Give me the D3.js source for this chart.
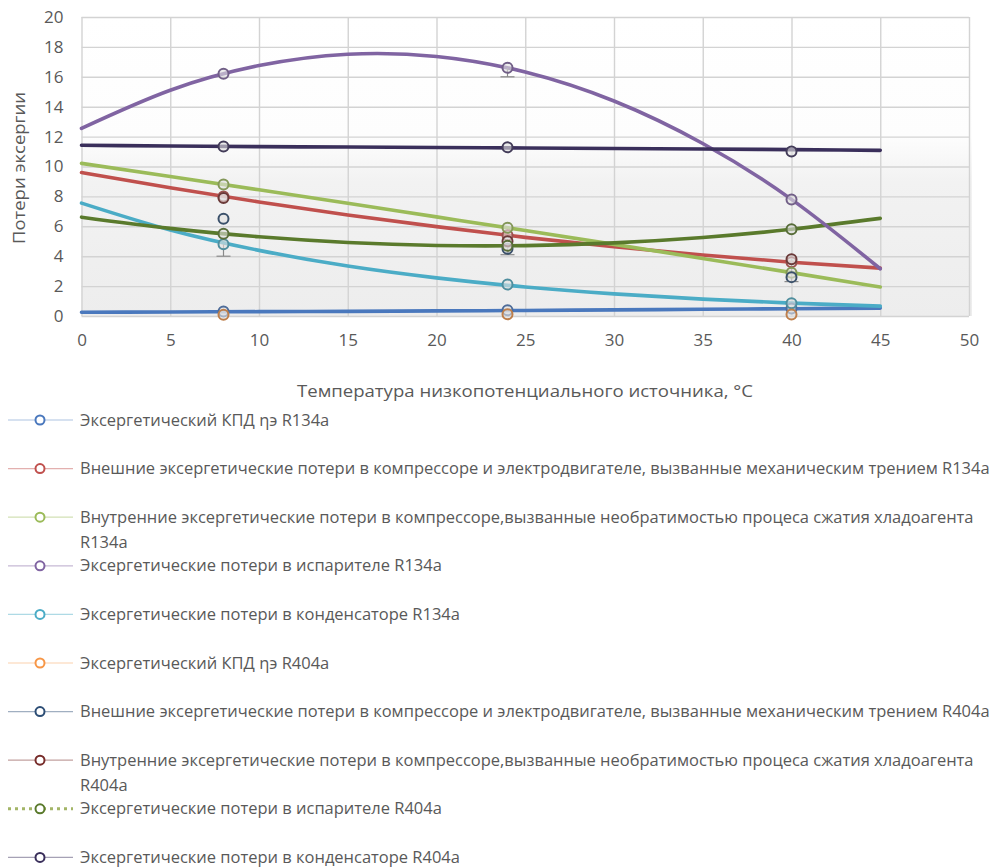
<!DOCTYPE html>
<html>
<head>
<meta charset="utf-8">
<title>Потери эксергии</title>
<script src="https://d3js.org/d3.v7.min.js"></script>
<style>
    body { margin: 0; background: #fff; }
    svg text { font-family: "Open Sans", "Noto Sans", sans-serif; fill: #595959; }
    .grid line { stroke: #d3d3d3; stroke-width: 1.4; }
    .grid path { display: none; }
    .ticks path, .ticks line { display: none; }
</style>
</head>
<body>
<svg id="chart" width="996" height="868"></svg>
<script>
// ---- data ----
const seriesNames = [
    "Эксергетический КПД ηэ R134a",
    "Внешние эксергетические потери в компрессоре и электродвигателе, вызванные механическим трением R134a",
    "Внутренние эксергетические потери в компрессоре,вызванные необратимостью процеса сжатия хладоагента R134a",
    "Эксергетические потери в испарителе R134a",
    "Эксергетические потери в конденсаторе R134a",
    "Эксергетический КПД ηэ R404a",
    "Внешние эксергетические потери в компрессоре и электродвигателе, вызванные механическим трением R404a",
    "Внутренние эксергетические потери в компрессоре,вызванные необратимостью процеса сжатия хладоагента R404a",
    "Эксергетические потери в испарителе R404a",
    "Эксергетические потери в конденсаторе R404a"
];
const seriesColors = ["#4a78bd", "#c0504d", "#9bbb59", "#8064a2", "#4bacc6",
                      "#f79646", "#2c4d75", "#772c2a", "#5a7a2c", "#3a2f5b"];

// measured temperatures
const tempX = [8, 24, 40];
const kpdR134a      = [0.3, 0.38, 0.5];
const extR134a      = [8.0, 5.4, 3.6];
const intR134a      = [8.8, 5.9, 2.9];
const evapR134a     = [16.2, 16.6, 7.8];
const condR134a     = [4.8, 2.1, 0.86];
const kpdR404a      = [0.08, 0.12, 0.1];
const extR404a      = [6.5, 4.5, 2.6];
const intR404a      = [7.9, 5.0, 3.8];
const evapR404a     = [5.5, 4.7, 5.8];
const condR404a     = [11.33, 11.28, 11.0];
const seriesValues = [kpdR134a, extR134a, intR134a, evapR134a, condR134a,
                      kpdR404a, extR404a, intR404a, evapR404a, condR404a];

// minus error bars (grey)
const errEvapR134a = [0, 0.6, 0];
const errCondR134a = [0.8, 0, 0];
const errEvapR404a = [0, 0.6, 0];
const errIntR404a  = [0, 0, 1.5];
const errorBars = [
    { series: 3, minus: errEvapR134a },
    { series: 4, minus: errCondR134a },
    { series: 8, minus: errEvapR404a },
    { series: 7, minus: errIntR404a }
];

// trend lines, read at these temperatures
const trendX = [0, 5, 10, 15, 20, 25, 30, 35, 40, 45];
const trendKpdR134a  = [0.25, 0.27, 0.29, 0.31, 0.34, 0.37, 0.41, 0.45, 0.49, 0.53];
const trendExtR134a  = [9.6, 8.58, 7.63, 6.76, 5.98, 5.26, 4.63, 4.08, 3.6, 3.2];
const trendIntR134a  = [10.21, 9.33, 8.44, 7.54, 6.63, 5.72, 4.79, 3.85, 2.9, 1.94];
const trendEvapR134a = [12.55, 15.1, 16.75, 17.51, 17.36, 16.32, 14.38, 11.54, 7.8, 3.16];
const trendCondR134a = [7.55, 5.75, 4.39, 3.34, 2.55, 1.94, 1.48, 1.13, 0.86, 0.66];
const trendEvapR404a = [6.61, 5.86, 5.3, 4.92, 4.72, 4.71, 4.89, 5.25, 5.8, 6.53];
const trendCondR404a = [11.42, 11.37, 11.33, 11.3, 11.27, 11.24, 11.2, 11.17, 11.13, 11.08];
const trends = [
    { series: 0, values: trendKpdR134a },
    { series: 1, values: trendExtR134a },
    { series: 2, values: trendIntR134a },
    { series: 4, values: trendCondR134a },
    { series: 8, values: trendEvapR404a },
    { series: 3, values: trendEvapR134a },
    { series: 9, values: trendCondR404a }
];

const xTicks = [0, 5, 10, 15, 20, 25, 30, 35, 40, 45, 50];
const yTicks = [0, 2, 4, 6, 8, 10, 12, 14, 16, 18, 20];

// ---- layout ----
const svg = d3.select("#chart");
const plot = { left: 81.5, right: 969, top: 17, bottom: 316 };

const x = d3.scaleLinear().domain([0, 50]).range([plot.left, plot.right]);
const y = d3.scaleLinear().domain([0, 20]).range([plot.bottom, plot.top]);

// plot background
const grad = svg.append("defs").append("linearGradient")
    .attr("id", "bg").attr("x1", 0).attr("y1", 0).attr("x2", 0).attr("y2", 1);
grad.append("stop").attr("offset", "0%").attr("stop-color", "#ffffff");
grad.append("stop").attr("offset", "40%").attr("stop-color", "#fdfdfd");
grad.append("stop").attr("offset", "55%").attr("stop-color", "#f2f2f2");
grad.append("stop").attr("offset", "100%").attr("stop-color", "#ededed");

svg.append("rect")
    .attr("x", plot.left).attr("y", plot.top)
    .attr("width", plot.right - plot.left + 3).attr("height", plot.bottom - plot.top)
    .attr("fill", "url(#bg)");

// grid
svg.append("g").attr("class", "grid")
    .attr("transform", `translate(0,${plot.bottom})`)
    .call(d3.axisBottom(x).tickValues(xTicks).tickSize(-(plot.bottom - plot.top)).tickFormat(""));
svg.append("g").attr("class", "grid")
    .attr("transform", `translate(${plot.left},0)`)
    .call(d3.axisLeft(y).tickValues(yTicks).tickSize(-(plot.right - plot.left)).tickFormat(""));

// tick labels
svg.append("g").attr("class", "ticks")
    .attr("transform", `translate(${plot.left - 2},0)`)
    .call(d3.axisLeft(y).tickValues(yTicks).tickSize(0).tickPadding(16))
    .selectAll("text").style("font-size", "17px").style("fill", "#595959");
svg.append("g").attr("class", "ticks")
    .attr("transform", `translate(0,${plot.bottom + 16})`)
    .call(d3.axisBottom(x).tickValues(xTicks).tickSize(0).tickPadding(2))
    .selectAll("text").style("font-size", "17px").style("fill", "#595959");

// axis titles
svg.append("text")
    .attr("x", 525).attr("y", 397)
    .attr("text-anchor", "middle")
    .style("font-size", "16px")
    .attr("textLength", 456).attr("lengthAdjust", "spacingAndGlyphs")
    .text("Температура низкопотенциального источника, °C");
svg.append("text")
    .attr("transform", "translate(25,168) rotate(-90)")
    .attr("text-anchor", "middle")
    .style("font-size", "16px")
    .attr("textLength", 152).attr("lengthAdjust", "spacingAndGlyphs")
    .text("Потери эксергии");

// trend lines
const trendLine = d3.line()
    .x((d, i) => x(trendX[i]))
    .y(d => y(d))
    .curve(d3.curveNatural);

svg.append("g").selectAll("path")
    .data(trends)
    .join("path")
    .attr("d", d => trendLine(d.values))
    .attr("fill", "none")
    .attr("stroke", d => seriesColors[d.series])
    .attr("stroke-width", 3.6)
    .attr("stroke-linecap", "round");

// error bars
const eb = svg.append("g").attr("stroke", "#8a8a8a").attr("stroke-width", 1.2);
errorBars.forEach(e => {
    e.minus.forEach((m, i) => {
        if (!m) return;
        const v = seriesValues[e.series][i];
        eb.append("line")
            .attr("x1", x(tempX[i])).attr("x2", x(tempX[i]))
            .attr("y1", y(v)).attr("y2", y(v - m));
        eb.append("line")
            .attr("x1", x(tempX[i]) - 7).attr("x2", x(tempX[i]) + 7)
            .attr("y1", y(v - m)).attr("y2", y(v - m));
    });
});

// markers
seriesValues.forEach((vals, s) => {
    svg.append("g").selectAll("circle")
        .data(vals)
        .join("circle")
        .attr("cx", (d, i) => x(tempX[i]))
        .attr("cy", d => y(d))
        .attr("r", 5)
        .attr("fill", "rgba(225,225,225,0.6)")
        .attr("stroke", d3.interpolateRgb(seriesColors[s], "#555")(0.35))
        .attr("stroke-width", 2);
});

// legend
const legendTop = 420, legendStep = 48.6, textX = 80, rightLimit = 994;
const legend = svg.append("g");

// calibrate horizontal stretch on the longest single-line entry
const probe = legend.append("text").style("font-size", "16px").text(seriesNames[1]);
const stretch = 910 / probe.node().getComputedTextLength();
probe.remove();

seriesNames.forEach((name, i) => {
    const cy = legendTop + i * legendStep;
    const g = legend.append("g");
    const col = seriesColors[i];

    if (i === 8) {
        g.append("line")
            .attr("x1", 8).attr("x2", 73).attr("y1", cy).attr("y2", cy)
            .attr("stroke", "#a3b567").attr("stroke-width", 3)
            .attr("stroke-dasharray", "3,4");
    } else {
        g.append("line")
            .attr("x1", 8).attr("x2", 73).attr("y1", cy).attr("y2", cy)
            .attr("stroke", col).attr("stroke-opacity", 0.45).attr("stroke-width", 1.2);
    }
    g.append("circle")
        .attr("cx", 40).attr("cy", cy).attr("r", 4.5)
        .attr("fill", "#fff")
        .attr("stroke", i === 8 ? "#5a7a2c" : col)
        .attr("stroke-width", 2);

    // wrap words to the right edge
    const words = name.split(" ");
    const lines = [];
    let cur = "";
    const meas = legend.append("text").style("font-size", "16px");
    words.forEach(w => {
        const test = cur ? cur + " " + w : w;
        meas.text(test);
        if (cur && textX + meas.node().getComputedTextLength() * stretch > rightLimit) {
            lines.push(cur);
            cur = w;
        } else {
            cur = test;
        }
    });
    lines.push(cur);
    meas.remove();

    lines.forEach((ln, j) => {
        g.append("text")
            .attr("transform", `translate(${textX},${cy + j * 25}) scale(${stretch},1)`)
            .attr("dy", "0.35em")
            .style("font-size", "16px")
            .text(ln);
    });
});
</script>
</body>
</html>
